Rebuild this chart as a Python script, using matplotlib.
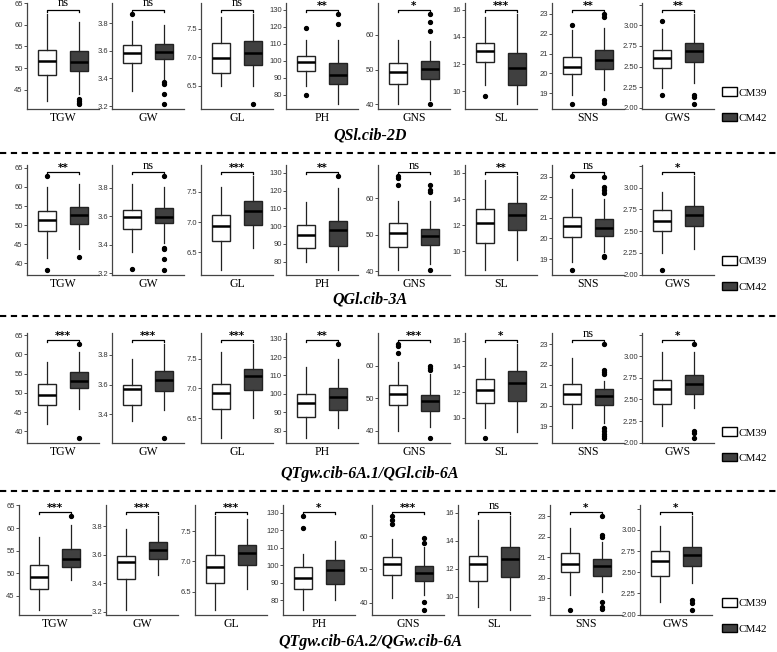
import numpy as np
import matplotlib.pyplot as plt
from matplotlib.patches import Patch
from matplotlib.lines import Line2D
from matplotlib.ticker import MultipleLocator, FormatStrFormatter

traits = ['TGW', 'GW', 'GL', 'PH', 'GNS', 'SL', 'SNS', 'GWS']
groups = ['CM39', 'CM42']
qtl_names = ['QSl.cib-2D', 'QGl.cib-3A', 'QTgw.cib-6A.1/QGl.cib-6A', 'QTgw.cib-6A.2/QGw.cib-6A']

# significance labels per row
signif_2D = ['ns', 'ns', 'ns', '**', '*', '***', '**', '**']
signif_3A = ['**', 'ns', '***', '**', 'ns', '**', 'ns', '*']
signif_6A1 = ['***', '***', '***', '**', '***', '*', 'ns', '*']
signif_6A2 = ['***', '***', '***', '*', '***', 'ns', '*', '*']

# box stats: [whisker low, q1, median, q3, whisker high]
cm39_2D = [[42.5, 48.3, 51.7, 54.1, 62.5], [3.31, 3.51, 3.586, 3.64, 3.814],
           [6.49, 6.73, 6.99, 7.25, 7.70], [84.8, 93.6, 99.0, 102.7, 112.4],
           [40.0, 46.0, 49.2, 51.9, 58.6], [10.5, 12.19, 12.97, 13.57, 15.47],
           [18.9, 19.95, 20.3, 20.83, 22.2], [2.24, 2.48, 2.60, 2.70, 2.96]]
cm39_out_2D = [[], [3.867], [], [119, 80], [], [9.64], [22.43, 18.43], [3.05, 2.15]]
cm42_2D = [[43.9, 49.4, 51.5, 53.9, 60.6], [3.39, 3.538, 3.593, 3.652, 3.783],
           [6.5, 6.86, 7.08, 7.29, 7.76], [74.2, 86.4, 91.6, 98.8, 112.0],
           [41.2, 47.4, 50.3, 52.4, 58.2], [9.03, 10.49, 11.75, 12.84, 15.7],
           [19.16, 20.22, 20.68, 21.2, 22.27], [2.3, 2.55, 2.69, 2.79, 3.14]]
cm42_out_2D = [[42.9, 42.4, 42.0, 41.6], [3.378, 3.36, 3.29, 3.212], [6.17], [127.5, 121.3],
               [66.0, 63.6, 61.0, 40.0], [], [23.0, 22.85, 18.67, 18.5], [2.16, 2.13, 2.04]]

cm39_3A = [[41.5, 48.5, 51.3, 53.8, 59.9], [3.35, 3.507, 3.596, 3.645, 3.826],
           [6.2, 6.68, 6.93, 7.11, 7.59], [80.0, 87.7, 94.8, 100.6, 113.7],
           [40.4, 46.6, 50.4, 53.2, 59.2], [8.56, 10.65, 12.21, 13.26, 15.48],
           [18.84, 20.06, 20.63, 21.04, 22.43], [2.25, 2.50, 2.62, 2.74, 2.95]]
cm39_out_3A = [[62.8, 38.2], [3.23], [], [], [66.1, 65.5, 63.8], [], [23.03, 18.45], [2.05]]
cm42_3A = [[43.7, 50.2, 52.6, 54.8, 60.8], [3.41, 3.55, 3.596, 3.66, 3.807],
           [6.57, 6.95, 7.19, 7.35, 7.76], [75.2, 89.0, 97.9, 103.1, 121.3],
           [41.9, 47.3, 49.6, 51.7, 59.2], [9.34, 11.64, 12.81, 13.73, 15.74],
           [19.33, 20.14, 20.5, 20.96, 21.94], [2.30, 2.56, 2.68, 2.79, 3.13]]
cm42_out_3A = [[41.8], [3.88, 3.38, 3.37, 3.30, 3.22], [], [128.1], [63.8, 62.4, 61.7, 40.2], [],
               [23.0, 22.5, 22.35, 22.2, 19.16, 19.08], []]

cm39_6A1 = [[41.9, 46.8, 49.4, 52.2, 58.0], [3.355, 3.46, 3.567, 3.6, 3.77],
            [6.16, 6.65, 6.92, 7.08, 7.61], [75.9, 87.4, 95.0, 100.0, 114.8],
            [39.8, 47.9, 51.4, 54.0, 61.0], [9.2, 11.17, 12.19, 12.99, 14.67],
            [18.92, 20.06, 20.58, 21.04, 22.35], [2.19, 2.45, 2.62, 2.73, 3.05]]
cm39_out_6A1 = [[], [], [], [], [66.5, 65.9, 63.8], [8.4], [], []]
cm42_6A1 = [[45.9, 51.2, 53.2, 55.4, 60.6], [3.43, 3.56, 3.633, 3.69, 3.87],
            [6.5, 6.97, 7.2, 7.32, 7.74], [81.5, 91.1, 98.1, 103.1, 118.9],
            [41.3, 46.2, 49.1, 51.0, 57.5], [8.93, 11.33, 12.75, 13.65, 15.73],
            [19.16, 20.03, 20.47, 20.8, 21.2], [2.40, 2.56, 2.68, 2.78, 3.05]]
cm42_out_6A1 = [[62.6, 38.2], [3.24], [], [126.9], [59.8, 59.3, 58.5, 37.7], [],
                [23.0, 21.75, 21.65, 21.55, 18.9, 18.75, 18.6, 18.5, 18.4], [3.14, 2.13, 2.11, 2.05]]

cm39_6A2 = [[41.8, 46.5, 49.1, 51.9, 58.0], [3.21, 3.43, 3.55, 3.59, 3.78],
            [6.19, 6.64, 6.91, 7.10, 7.75], [74.2, 86.4, 93.0, 99.0, 106.7],
            [41.5, 48.3, 51.6, 53.8, 59.3], [9.28, 11.15, 12.31, 12.92, 15.47],
            [19.17, 20.27, 20.69, 21.23, 22.44], [2.15, 2.46, 2.63, 2.75, 3.05]]
cm39_out_6A2 = [[], [], [], [128.1, 121.2], [66.0, 64.9, 63.7], [], [18.42], []]
cm42_6A2 = [[48.5, 51.4, 53.2, 55.3, 60.6], [3.46, 3.57, 3.63, 3.69, 3.87],
            [6.55, 6.94, 7.14, 7.28, 7.70], [80.0, 89.3, 97.5, 102.8, 113.7],
            [42.4, 46.5, 49.0, 51.1, 56.9], [9.03, 11.39, 12.67, 13.57, 15.76],
            [19.3, 20.07, 20.57, 20.9, 21.73], [2.37, 2.57, 2.70, 2.80, 3.16]]
cm42_out_6A2 = [[62.6], [], [], [], [59.6, 57.9, 40.3, 37.7], [],
                [23.0, 22.1, 22.0, 18.8, 18.6, 18.5], [2.17, 2.14, 2.05]]

tick_step = [5, 0.2, 0.5, 10, 10, 2, 1, 0.25]
tick_fmt = ['%g', '%.1f', '%.1f', '%g', '%g', '%g', '%g', '%.2f']

rows = [
    (cm39_2D, cm39_out_2D, cm42_2D, cm42_out_2D, signif_2D),
    (cm39_3A, cm39_out_3A, cm42_3A, cm42_out_3A, signif_3A),
    (cm39_6A1, cm39_out_6A1, cm42_6A1, cm42_out_6A1, signif_6A1),
    (cm39_6A2, cm39_out_6A2, cm42_6A2, cm42_out_6A2, signif_6A2),
]

W, H = 777, 652
fig = plt.figure(figsize=(W / 100, H / 100), dpi=100)
fig.patch.set_facecolor('white')

serif = ['Liberation Serif', 'DejaVu Serif']
narrow = ['Liberation Sans Narrow', 'Liberation Sans', 'DejaVu Sans']
box_colors = ['white', '#404040']

# layout in pixels
axes_bottom = [109, 275, 443, 615]
axes_h = [106, 110, 110, 110]
lefts = [[27, 112, 201, 286, 378, 465, 552, 642]] * 3 + [[19, 106, 195, 283, 372, 458, 550, 640]]
axes_w = 72
title_y = [135, 300, 474, 642]
legend_y = [105, 274, 445, 616]
sep_y = [153, 316, 491]

for r, (s39, o39, s42, o42, sig) in enumerate(rows):
    for i, trait in enumerate(traits):
        ax = fig.add_axes([lefts[r][i] / W, 1 - axes_bottom[r] / H, axes_w / W, axes_h[r] / H])
        stats = []
        for s, o, g in [(s39[i], o39[i], 'CM39'), (s42[i], o42[i], 'CM42')]:
            stats.append(dict(whislo=s[0], q1=s[1], med=s[2], q3=s[3], whishi=s[4],
                              fliers=o, label=g))
        bp = ax.bxp(stats, positions=[1, 2], widths=0.55, patch_artist=True,
                    boxprops=dict(linewidth=1.0, edgecolor='#222222'),
                    medianprops=dict(color='black', linewidth=1.8),
                    whiskerprops=dict(color='#222222', linewidth=0.9),
                    capprops=dict(linewidth=0),
                    flierprops=dict(marker='o', markerfacecolor='black',
                                    markeredgecolor='black', markersize=2.8))
        for patch, c in zip(bp['boxes'], box_colors):
            patch.set_facecolor(c)

        vals = s39[i] + s42[i] + o39[i] + o42[i]
        lo, hi = min(vals), max(vals)
        rng = hi - lo
        ylim = (lo - 0.05 * rng, hi + 0.12 * rng)
        ax.set_xlim(0.4, 2.6)

        # significance bracket
        yb = hi + 0.045 * rng
        ax.plot([1, 1, 2, 2], [yb - 0.025 * rng, yb, yb, yb - 0.025 * rng],
                color='black', lw=0.9, clip_on=False)
        if sig[i] == 'ns':
            ax.text(1.5, yb + 0.005 * rng, sig[i], ha='center', va='bottom',
                    family=serif, fontsize=9)
        else:
            ax.text(1.5, yb - 0.012 * rng, sig[i], ha='center', va='bottom',
                    family='DejaVu Sans', fontweight='bold', fontsize=7.5)

        ax.yaxis.set_major_locator(MultipleLocator(tick_step[i]))
        ax.yaxis.set_major_formatter(FormatStrFormatter(tick_fmt[i]))
        ax.set_ylim(*ylim)
        if trait == 'GWS':
            ax.set_yticks(ax.get_yticks())
            ax.set_yticklabels([tick_fmt[i] % t if t < 3.1 else '' for t in ax.get_yticks()])
            ax.set_ylim(*ylim)
        ax.set_xticks([])
        ax.tick_params(axis='y', length=2, width=0.6, color='#333333',
                       labelsize=5.5, pad=1, labelcolor='#333333')
        for lab in ax.get_yticklabels():
            lab.set_family(narrow)
        for sp in ['top', 'right']:
            ax.spines[sp].set_visible(False)
        for sp in ['left', 'bottom']:
            ax.spines[sp].set_color('#444444')
            ax.spines[sp].set_linewidth(0.9)
        ax.set_xlabel(trait, family=serif, fontsize=8.5, labelpad=2)
        ax.set_facecolor('none')

    fig.text(370 / W, 1 - title_y[r] / H, qtl_names[r], ha='center', va='center',
             family=serif, style='italic', fontweight='bold', fontsize=11.5)

    handles = [Patch(facecolor=c, edgecolor='black', linewidth=1.0, label=g)
               for c, g in zip(box_colors, groups)]
    fig.legend(handles=handles, loc='center left',
               bbox_to_anchor=(718 / W, 1 - legend_y[r] / H), frameon=False,
               prop=dict(family=serif, size=8), handlelength=1.3, handleheight=0.8,
               handletextpad=0.15, labelspacing=1.35, borderaxespad=0)

for y in sep_y:
    fig.add_artist(Line2D([0, 1], [1 - y / H, 1 - y / H], transform=fig.transFigure,
                          color='black', lw=1.5, ls=(0, (3, 2.2))))

fig.savefig('out.png', dpi=100)
